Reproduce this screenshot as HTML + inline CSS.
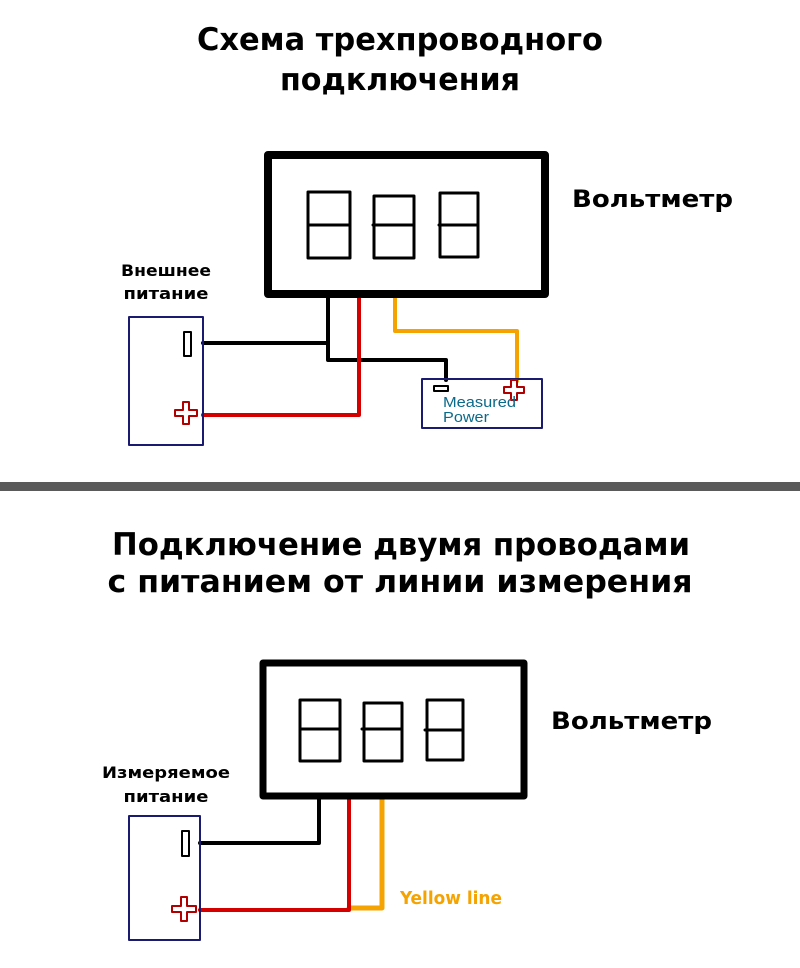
<!DOCTYPE html>
<html><head><meta charset="utf-8"><style>html,body{margin:0;padding:0;background:#fff}svg{display:block}</style></head>
<body>
<svg width="800" height="968" viewBox="0 0 800 968" xmlns="http://www.w3.org/2000/svg" font-family="'DejaVu Sans Condensed','DejaVu Sans','Liberation Sans',sans-serif" font-weight="bold">
<rect width="800" height="968" fill="#fff"/>
<text x="400" y="50" font-size="31" text-anchor="middle" textLength="406" lengthAdjust="spacingAndGlyphs">Схема трехпроводного</text>
<text x="400" y="90" font-size="31" text-anchor="middle" textLength="240" lengthAdjust="spacingAndGlyphs">подключения</text>
<rect x="0" y="482" width="800" height="9" fill="#5a5a5a"/>
<text x="401" y="555" font-size="31" text-anchor="middle" textLength="578" lengthAdjust="spacingAndGlyphs">Подключение двумя проводами</text>
<text x="400" y="592" font-size="31" text-anchor="middle" textLength="585" lengthAdjust="spacingAndGlyphs">с питанием от линии измерения</text>

<!-- top diagram -->
<g fill="none" stroke-linecap="round" stroke-linejoin="round">
<polyline points="328,296 328,343 203,343" stroke="#000" stroke-width="4"/>
<polyline points="328,343 328,360 446,360 446,380" stroke="#000" stroke-width="4"/>
<polyline points="359,296 359,415 203,415" stroke="#d40000" stroke-width="4"/>
<polyline points="395,297 395,331 517,331 517,381" stroke="#f5a300" stroke-width="4"/>
<rect x="268" y="155" width="277" height="139" stroke="#000" stroke-width="8"/>
<g stroke="#000" stroke-width="3">
<rect x="308" y="192" width="42" height="66"/><line x1="308" y1="225" x2="350" y2="225"/>
<rect x="374" y="196" width="40" height="62"/><line x1="373" y1="225" x2="414" y2="225"/>
<rect x="440" y="193" width="38" height="64"/><line x1="439" y1="225" x2="478" y2="225"/>
</g>
<rect x="129" y="317" width="74" height="128" stroke="#1a1a6e" stroke-width="2"/>
<rect x="184" y="332" width="7" height="24" stroke="#000" stroke-width="2"/>
<path d="M175,410h8v-8h6v8h8v6h-8v8h-6v-8h-8z" stroke="#b00000" stroke-width="2" fill="#fff"/>
<rect x="422" y="379" width="120" height="49" stroke="#1a1a6e" stroke-width="2"/>
<rect x="434" y="386" width="14" height="5" stroke="#000" stroke-width="2"/>
<path d="M504,387h7v-7h6v7h7v6h-7v7h-6v-7h-7z" stroke="#b00000" stroke-width="2" fill="#fff"/>
</g>
<text x="443" y="407" font-size="15" font-weight="normal" fill="#0a6a8a" font-family="'Liberation Sans',sans-serif" textLength="73" lengthAdjust="spacingAndGlyphs">Measured</text>
<text x="443" y="422" font-size="15" font-weight="normal" fill="#0a6a8a" font-family="'Liberation Sans',sans-serif" textLength="46" lengthAdjust="spacingAndGlyphs">Power</text>
<text x="166" y="276" font-size="16" text-anchor="middle" textLength="90" lengthAdjust="spacingAndGlyphs">Внешнее</text>
<text x="166" y="299" font-size="16" text-anchor="middle" textLength="85" lengthAdjust="spacingAndGlyphs">питание</text>
<text x="572" y="207" font-size="24" textLength="161" lengthAdjust="spacingAndGlyphs">Вольтметр</text>

<!-- bottom diagram -->
<g fill="none" stroke-linecap="round" stroke-linejoin="round">
<polyline points="319,797 319,843 200,843" stroke="#000" stroke-width="4"/>
<polyline points="382,797 382,908 349,908" stroke="#f5a300" stroke-width="5"/>
<polyline points="349,797 349,910 200,910" stroke="#d40000" stroke-width="4"/>
<rect x="263" y="663" width="261" height="133" stroke="#000" stroke-width="7"/>
<g stroke="#000" stroke-width="3">
<rect x="300" y="700" width="40" height="61"/><line x1="300" y1="729" x2="340" y2="729"/>
<rect x="364" y="703" width="38" height="58"/><line x1="362" y1="729" x2="402" y2="729"/>
<rect x="427" y="700" width="36" height="60"/><line x1="425" y1="730" x2="463" y2="730"/>
</g>
<rect x="129" y="816" width="71" height="124" stroke="#1a1a6e" stroke-width="2"/>
<rect x="182" y="831" width="7" height="25" stroke="#000" stroke-width="2"/>
<path d="M172,906h9v-9h6v9h9v6h-9v9h-6v-9h-9z" stroke="#b00000" stroke-width="2" fill="#fff"/>
</g>
<text x="400" y="904" font-size="18" fill="#f5a300" textLength="102" lengthAdjust="spacingAndGlyphs">Yellow line</text>
<text x="166" y="778" font-size="16" text-anchor="middle" textLength="128" lengthAdjust="spacingAndGlyphs">Измеряемое</text>
<text x="166" y="802" font-size="16" text-anchor="middle" textLength="85" lengthAdjust="spacingAndGlyphs">питание</text>
<text x="551" y="729" font-size="24" textLength="161" lengthAdjust="spacingAndGlyphs">Вольтметр</text>
</svg>
</body></html>
